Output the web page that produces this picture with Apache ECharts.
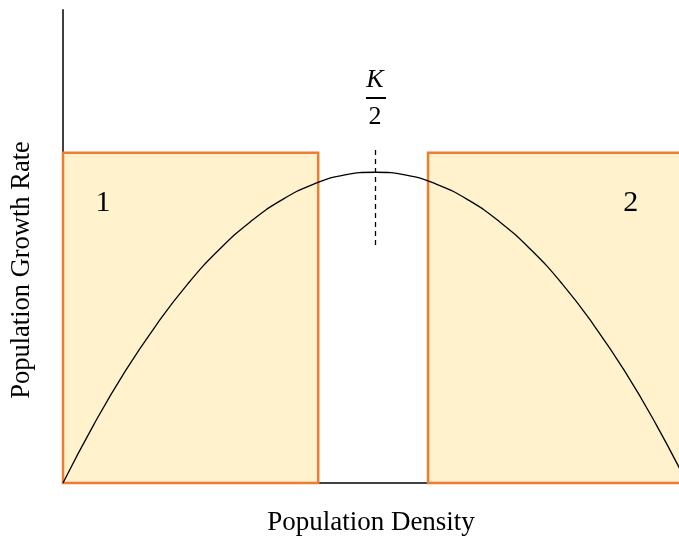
<!DOCTYPE html>
<html>
<head>
<meta charset="utf-8" />
<title></title>
<script src="https://cdn.jsdelivr.net/npm/echarts@6/dist/echarts.min.js"></script>
<style>
  html, body { margin: 0; padding: 0; background: #fff; }
  #main { width: 679px; height: 536px; }
</style>
</head>
<body>
<div id="main"></div>
<script type="text/javascript">
/* 数据 */
var densityX = [0, 0.05, 0.1, 0.15, 0.2, 0.25, 0.3, 0.35, 0.4, 0.45, 0.5, 0.55, 0.6, 0.65, 0.7, 0.75, 0.8, 0.85, 0.9, 0.95, 1];
var growthY = [0, 0.125, 0.237, 0.335, 0.421, 0.493, 0.552, 0.598, 0.631, 0.651, 0.657, 0.651, 0.631, 0.598, 0.552, 0.493, 0.421, 0.335, 0.237, 0.125, 0];
var boxes = [[0, 0.409], [0.585, 1]];
var boxTop = 0.698;
var boxLabels = ['1', '2'];
var boxLabelPos = [[0.064, 0.592], [0.91, 0.592]];
var peakX = 0.5;
var dashRange = [0.503, 0.71];
var fracBar = [0.4856, 0.5176, 0.814];
var fracK = 0.852;
var frac2 = 0.774;
var xMax = 0.9872; /* 曲线和右框伸出画面 */

var serif = '"Liberation Serif", "Times New Roman", serif';
var chart = echarts.init(document.getElementById('main'));

var curve = [];
for (var i = 0; i < densityX.length; i++) curve.push([densityX[i], growthY[i]]);

var boxData = boxes.map(function (b) { return [b[0], b[1], boxTop]; });

var labels = boxLabels.map(function (t, i) {
    return {
        coord: boxLabelPos[i],
        symbolSize: 0,
        label: { show: true, formatter: t, color: '#000', fontFamily: serif, fontSize: 30, position: 'inside' }
    };
});
labels.push({
    coord: [peakX, fracK], symbolSize: 0,
    label: { show: true, formatter: 'K', color: '#000', fontFamily: serif, fontStyle: 'italic', fontSize: 26, position: 'inside' }
});
labels.push({
    coord: [peakX, frac2], symbolSize: 0,
    label: { show: true, formatter: '2', color: '#000', fontFamily: serif, fontSize: 26, position: 'inside' }
});

/* 方框：不裁剪，右框可伸出画面 */
function renderBox(params, api) {
    var p0 = api.coord([api.value(0), 0]);
    var p1 = api.coord([api.value(1), api.value(2)]);
    return {
        type: 'rect',
        shape: { x: p0[0], y: p1[1], width: p1[0] - p0[0], height: p0[1] - p1[1] },
        style: { fill: '#fff2cc', stroke: '#ed7d31', lineWidth: 2.5 }
    };
}

var option = {
    animation: false,
    grid: { left: 63, right: 0, top: 10, bottom: 53 },
    xAxis: {
        type: 'value', min: 0, max: xMax,
        axisLine: { show: true, lineStyle: { color: '#404040', width: 2 } },
        axisTick: { show: false }, axisLabel: { show: false }, splitLine: { show: false }
    },
    yAxis: {
        type: 'value', min: 0, max: 1,
        axisLine: { show: true, lineStyle: { color: '#404040', width: 2 } },
        axisTick: { show: false }, axisLabel: { show: false }, splitLine: { show: false }
    },
    graphic: [
        { type: 'text', x: 371, y: 523,
          style: { text: 'Population Density', font: '27px ' + serif, fill: '#000', align: 'center', verticalAlign: 'middle' } },
        { type: 'text', x: 22, y: 270, rotation: Math.PI / 2, originX: 0, originY: 0,
          style: { text: 'Population Growth Rate', font: '26.5px ' + serif, fill: '#000', align: 'center', verticalAlign: 'middle' } }
    ],
    series: [{
        type: 'custom',
        renderItem: renderBox,
        data: boxData,
        clip: false,
        silent: true,
        z: 3
    }, {
        type: 'line',
        data: curve,
        smooth: true,
        showSymbol: false,
        symbol: 'none',
        clip: false,
        lineStyle: { color: '#000', width: 1.3 },
        z: 5,
        markLine: {
            silent: true,
            symbol: 'none',
            label: { show: false },
            data: [
                [{ coord: [peakX, dashRange[0]], lineStyle: { type: [5, 4], color: '#000', width: 1.3 } },
                 { coord: [peakX, dashRange[1]] }],
                [{ coord: [fracBar[0], fracBar[2]], lineStyle: { type: 'solid', color: '#000', width: 2 } },
                 { coord: [fracBar[1], fracBar[2]] }]
            ]
        },
        markPoint: { silent: true, data: labels }
    }]
};
chart.setOption(option);
window.onresize = chart.resize;
</script>
</body>
</html>
